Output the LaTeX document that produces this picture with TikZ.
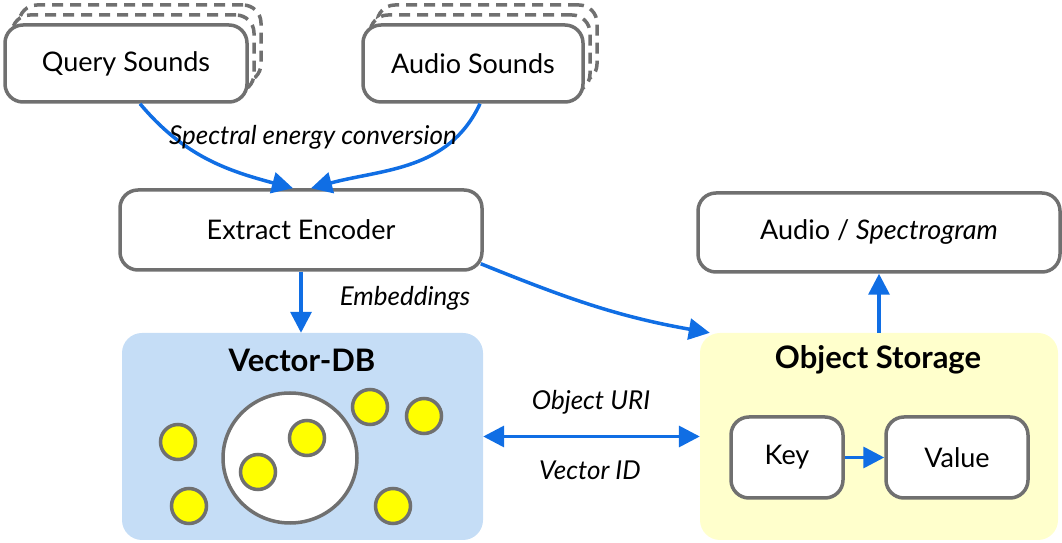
\documentclass[tikz,border=0pt]{standalone}
\usepackage{fontspec}
\setmainfont{Lato}
\usetikzlibrary{arrows.meta,shadows}
\definecolor{linegray}{RGB}{112,112,112}
\definecolor{arrowblue}{RGB}{16,110,228}
\definecolor{dbblue}{RGB}{197,221,246}
\definecolor{storeyellow}{RGB}{255,255,204}
\definecolor{dotyellow}{RGB}{255,255,0}
\begin{document}
\begin{tikzpicture}[x=1pt, y=1pt,
  font=\fontsize{27}{31}\selectfont,
  box/.style={draw=linegray, line width=3.5pt, rounded corners=18pt, fill=white, inner sep=0pt},
  stack/.style={box,
    copy shadow={shadow xshift=14pt, shadow yshift=20pt, draw=linegray, line width=3.5pt, dash pattern=on 11pt off 7pt},
    copy shadow={shadow xshift=7pt, shadow yshift=10pt, draw=linegray, line width=3.5pt, dash pattern=on 11pt off 7pt}},
  area/.style={rounded corners=20pt, inner sep=0pt},
  tip/.tip={Triangle[length=21pt, width=21pt]},
  conn/.style={draw=arrowblue, line width=3.5pt, -tip},
  dconn/.style={draw=arrowblue, line width=3.5pt, tip-tip},
  lbl/.style={font=\fontsize{26}{30}\selectfont\itshape},
  ttl/.style={font=\fontsize{31}{35}\selectfont\bfseries},
  vecdot/.style={draw=linegray, fill=dotyellow, line width=3.5pt}]
  \useasboundingbox (0,0) rectangle (1062,543);
  % Sources
  \node[stack, minimum width=242pt, minimum height=77pt] (query) at (126,479.5) {Query Sounds};
  \node[stack, minimum width=220pt, minimum height=77pt] (audio) at (473,479.5) {Audio Sounds};
  % Encoder and output
  \node[box, minimum width=362pt, minimum height=80pt] (enc) at (301,313) {Extract Encoder};
  \node[box, minimum width=362pt, minimum height=79pt] (spec) at (879,310.5) {Audio / \textit{Spectrogram}};
  % Stores
  \node[area, fill=dbblue, minimum width=361pt, minimum height=207pt] (vdb) at (302.5,106.5) {};
  \node[area, fill=storeyellow, minimum width=358pt, minimum height=207pt] (obj) at (879,106.5) {};
  \node[ttl] (vdbtitle) at (302,183) {Vector-DB};
  \node[ttl] (objtitle) at (878,183) {Object Storage};
  \node[box, minimum width=112pt, minimum height=81pt] (key) at (787,85.5) {Key};
  \node[box, minimum width=142pt, minimum height=81pt] (value) at (957,85.5) {Value};
  % Embedding space
  \draw[draw=linegray, fill=white, line width=3.5pt] (290,85) ellipse (67pt and 65pt);
  \foreach \px/\py in {178/101, 189/37, 258/71, 307/105, 370/136, 424/127, 393/37} {
    \draw[vecdot] (\px,\py) circle (17.5pt);
  }
  % Connectors
  \draw[conn] ([xshift=14pt]query.south) to[out=-50, in=165] ([xshift=-8pt]enc.north);
  \draw[conn] ([xshift=7pt]audio.south) to[out=-115, in=15] ([xshift=10pt]enc.north);
  \node[lbl] (speclbl) at (313,406) {Spectral energy conversion};
  \draw[conn] (enc.south) -- (enc.south |- vdb.north);
  \node[lbl] (emblbl) at (405,245) {Embeddings};
  \draw[conn] ([xshift=-3pt, yshift=8pt]enc.south east) to[out=-22, in=170] ([xshift=10pt]obj.north west);
  \draw[conn] (obj.north) -- (spec.south);
  \draw[dconn] (vdb.east) -- (obj.west);
  \node[lbl] (urilbl) at (591,141) {Object URI};
  \node[lbl] (idlbl) at (590,73) {Vector ID};
  \draw[conn] (key.east) -- (value.west);
\end{tikzpicture}
\end{document}
